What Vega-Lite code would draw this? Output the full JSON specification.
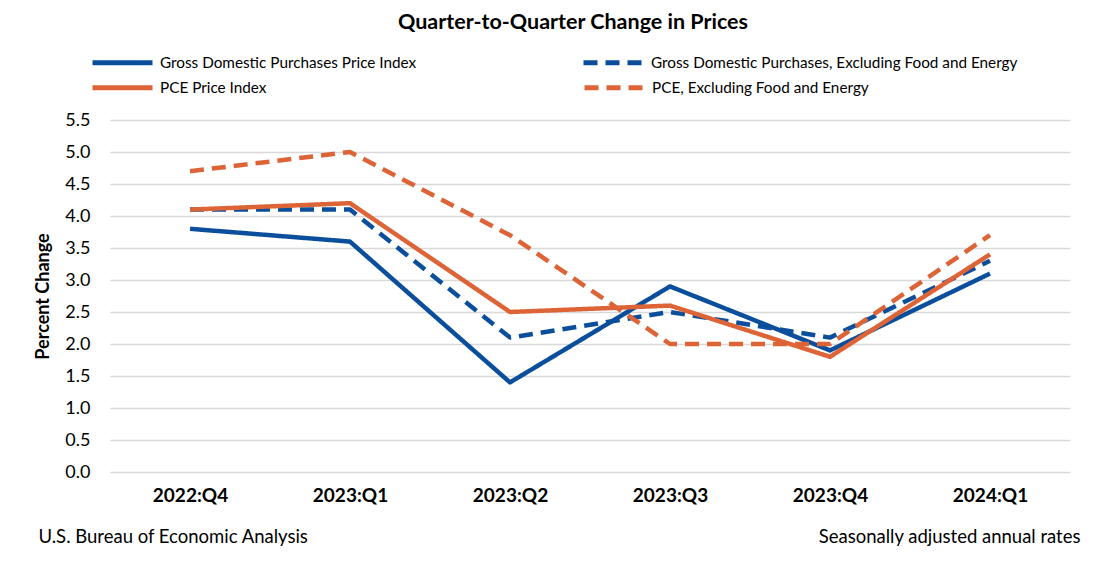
{
  "$schema": "https://vega.github.io/schema/vega-lite/v6.json",
  "autosize": {"type": "none"},
  "width": 960,
  "height": 352,
  "padding": {"left": 110, "top": 120, "right": 29, "bottom": 95},
  "background": "white",
  "title": {
    "text": "Quarter-to-Quarter Change in Prices",
    "font": "Lato",
    "fontSize": 21.5,
    "fontWeight": "bold",
    "color": "#000000",
    "anchor": "middle",
    "dx": -17,
    "dy": 33,
    "offset": 30
  },
  "data": {
    "values": [
      {"quarter": "2022:Q4", "group": "GDP", "series": "Gross Domestic Purchases Price Index", "value": 3.8},
      {"quarter": "2023:Q1", "group": "GDP", "series": "Gross Domestic Purchases Price Index", "value": 3.6},
      {"quarter": "2023:Q2", "group": "GDP", "series": "Gross Domestic Purchases Price Index", "value": 1.4},
      {"quarter": "2023:Q3", "group": "GDP", "series": "Gross Domestic Purchases Price Index", "value": 2.9},
      {"quarter": "2023:Q4", "group": "GDP", "series": "Gross Domestic Purchases Price Index", "value": 1.9},
      {"quarter": "2024:Q1", "group": "GDP", "series": "Gross Domestic Purchases Price Index", "value": 3.1},
      {"quarter": "2022:Q4", "group": "GDP", "series": "Gross Domestic Purchases, Excluding Food and Energy", "value": 4.1},
      {"quarter": "2023:Q1", "group": "GDP", "series": "Gross Domestic Purchases, Excluding Food and Energy", "value": 4.1},
      {"quarter": "2023:Q2", "group": "GDP", "series": "Gross Domestic Purchases, Excluding Food and Energy", "value": 2.1},
      {"quarter": "2023:Q3", "group": "GDP", "series": "Gross Domestic Purchases, Excluding Food and Energy", "value": 2.5},
      {"quarter": "2023:Q4", "group": "GDP", "series": "Gross Domestic Purchases, Excluding Food and Energy", "value": 2.1},
      {"quarter": "2024:Q1", "group": "GDP", "series": "Gross Domestic Purchases, Excluding Food and Energy", "value": 3.3},
      {"quarter": "2022:Q4", "group": "PCE", "series": "PCE Price Index", "value": 4.1},
      {"quarter": "2023:Q1", "group": "PCE", "series": "PCE Price Index", "value": 4.2},
      {"quarter": "2023:Q2", "group": "PCE", "series": "PCE Price Index", "value": 2.5},
      {"quarter": "2023:Q3", "group": "PCE", "series": "PCE Price Index", "value": 2.6},
      {"quarter": "2023:Q4", "group": "PCE", "series": "PCE Price Index", "value": 1.8},
      {"quarter": "2024:Q1", "group": "PCE", "series": "PCE Price Index", "value": 3.4},
      {"quarter": "2022:Q4", "group": "PCE", "series": "PCE, Excluding Food and Energy", "value": 4.7},
      {"quarter": "2023:Q1", "group": "PCE", "series": "PCE, Excluding Food and Energy", "value": 5.0},
      {"quarter": "2023:Q2", "group": "PCE", "series": "PCE, Excluding Food and Energy", "value": 3.7},
      {"quarter": "2023:Q3", "group": "PCE", "series": "PCE, Excluding Food and Energy", "value": 2.0},
      {"quarter": "2023:Q4", "group": "PCE", "series": "PCE, Excluding Food and Energy", "value": 2.0},
      {"quarter": "2024:Q1", "group": "PCE", "series": "PCE, Excluding Food and Energy", "value": 3.7}
    ]
  },
  "layer": [
    {
      "transform": [{"filter": "datum.group === 'GDP'"}],
      "mark": {"type": "line", "strokeWidth": 4.5, "strokeCap": "butt", "strokeJoin": "round"},
      "encoding": {
        "x": {
          "field": "quarter",
          "type": "ordinal",
          "scale": {"type": "point", "padding": 0.5},
          "axis": {
            "orient": "bottom",
            "labelFont": "Lato",
            "labelFontSize": 19,
            "labelFontWeight": "bold",
            "labelColor": "#000000",
            "labelAngle": 0,
            "labelPadding": 14,
            "ticks": false,
            "domain": false,
            "grid": false,
            "title": "U.S. Bureau of Economic Analysis",
            "titleFont": "Lato",
            "titleFontSize": 18.5,
            "titleFontWeight": "normal",
            "titleColor": "#000000",
            "titleAlign": "left",
            "titleAnchor": null,
            "titleBaseline": "middle",
            "titleX": -72,
            "titleY": 64
          }
        },
        "y": {
          "field": "value",
          "type": "quantitative",
          "scale": {"domain": [0, 5.5], "nice": false, "zero": true},
          "axis": {
            "values": [0, 0.5, 1, 1.5, 2, 2.5, 3, 3.5, 4, 4.5, 5, 5.5],
            "format": ".1f",
            "labelOverlap": false,
            "labelFont": "Lato",
            "labelFontSize": 18,
            "labelColor": "#000000",
            "labelPadding": 20,
            "ticks": false,
            "domain": false,
            "grid": true,
            "gridColor": "#d9d9d9",
            "gridWidth": 1.5,
            "title": "Percent Change",
            "titleFont": "Lato",
            "titleFontSize": 18,
            "titleFontWeight": "bold",
            "titleColor": "#000000",
            "titlePadding": 12
          }
        },
        "color": {
          "field": "series",
          "type": "nominal",
          "scale": {
            "domain": ["Gross Domestic Purchases Price Index", "Gross Domestic Purchases, Excluding Food and Energy"],
            "range": ["#0B4F9C", "#0B4F9C"]
          },
          "legend": {
            "title": null,
            "orient": "none",
            "legendX": -20,
            "legendY": -90,
            "columns": 2,
            "direction": "horizontal",
            "columnPadding": 156,
            "symbolType": "stroke",
            "symbolSize": 3600,
            "symbolStrokeWidth": 5,
            "labelFont": "Lato",
            "labelFontSize": 15.3,
            "labelColor": "#000000",
            "labelOffset": 5,
            "labelLimit": 500
          }
        },
        "strokeDash": {
          "field": "series",
          "type": "nominal",
          "scale": {
            "domain": ["Gross Domestic Purchases Price Index", "Gross Domestic Purchases, Excluding Food and Energy"],
            "range": [[1, 0], [14, 8]]
          },
          "legend": null
        }
      }
    },
    {
      "transform": [{"filter": "datum.group === 'PCE'"}],
      "mark": {"type": "line", "strokeWidth": 4.5, "strokeCap": "butt", "strokeJoin": "round"},
      "encoding": {
        "x": {"field": "quarter", "type": "ordinal", "axis": null},
        "y": {"field": "value", "type": "quantitative", "axis": null},
        "color": {
          "field": "series",
          "type": "nominal",
          "scale": {
            "domain": ["PCE Price Index", "PCE, Excluding Food and Energy"],
            "range": ["#DC6437", "#DC6437"]
          },
          "legend": {
            "title": null,
            "orient": "none",
            "legendX": -20,
            "legendY": -65,
            "columns": 2,
            "direction": "horizontal",
            "columnPadding": 307,
            "symbolType": "stroke",
            "symbolSize": 3600,
            "symbolStrokeWidth": 5,
            "labelFont": "Lato",
            "labelFontSize": 15.3,
            "labelColor": "#000000",
            "labelOffset": 5,
            "labelLimit": 500
          }
        },
        "strokeDash": {
          "field": "series",
          "type": "nominal",
          "scale": {
            "domain": ["PCE Price Index", "PCE, Excluding Food and Energy"],
            "range": [[1, 0], [14, 8]]
          },
          "legend": null
        }
      }
    },
    {
      "mark": {"type": "line", "opacity": 0},
      "encoding": {
        "x": {
          "field": "quarter",
          "type": "ordinal",
          "axis": {
            "orient": "top",
            "labels": false,
            "ticks": false,
            "domain": false,
            "grid": false,
            "title": "Seasonally adjusted annual rates",
            "titleFont": "Lato",
            "titleFontSize": 18.5,
            "titleFontWeight": "normal",
            "titleColor": "#000000",
            "titleAlign": "right",
            "titleAnchor": null,
            "titleBaseline": "middle",
            "titleX": 970,
            "titleY": 416
          }
        },
        "y": {"field": "value", "type": "quantitative", "axis": null},
        "detail": {"field": "series"}
      }
    }
  ],
  "resolve": {
    "axis": {"x": "independent", "y": "independent"},
    "scale": {"color": "independent", "strokeDash": "independent"}
  },
  "config": {"view": {"stroke": null}}
}
